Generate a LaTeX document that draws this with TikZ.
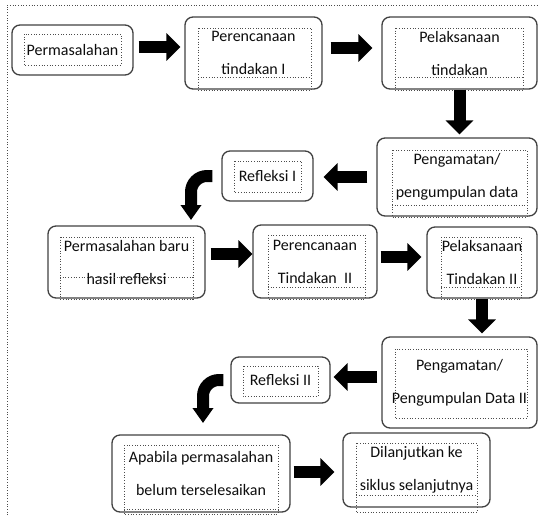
\documentclass[tikz,border=0pt]{standalone}
\usepackage{fontspec}
\setmainfont{Carlito}
\usetikzlibrary{arrows.meta}

\begin{document}
\begin{tikzpicture}[
x=1pt,y=-1pt,
box/.style={
  draw=black!75,
  line width=1.3pt,
  rounded corners=8pt,
  align=center,
  inner sep=0pt,
  text=black!95,
  font=\fontsize{16}{33}\selectfont
},
tbox/.style={
  draw=black!70,
  dotted,
  line width=0.7pt
},
barrow/.style={
  line width=12pt,
  -{Triangle[width=27pt,length=14pt]}
},
carrow/.style={
  line width=12pt,
  rounded corners=16pt,
  -{Triangle[width=20pt,length=15pt]}
}
]
\useasboundingbox (0,0) rectangle (538,515);
\draw[tbox] (7,515) -- (7,5) -- (538,5);

% first cycle
\node[box,minimum width=121pt,minimum height=50pt] at (72.5,50)
  (masalah) {Permasalahan};
\node[box,minimum width=137pt,minimum height=72pt] at (253.5,53)
  (rencana) {Perencanaan\\tindakan I};
\node[box,minimum width=155pt,minimum height=72pt] at (459.5,53)
  (laksana) {Pelaksanaan\\tindakan};
\node[box,minimum width=160pt,minimum height=78pt] at (457,177)
  (amat) {Pengamatan/\\pengumpulan data};
\node[box,minimum width=91pt,minimum height=50pt] at (267.5,176)
  (refleksi) {Refleksi I};

% second cycle
\node[box,minimum width=157pt,minimum height=72pt] at (126.5,262)
  (masalahB) {Permasalahan baru\\hasil refleksi};
\node[box,minimum width=124pt,minimum height=73pt] at (315,261.5)
  (rencanaB) {Perencanaan\\Tindakan~~II};
\node[box,minimum width=110pt,minimum height=71pt] at (482,262.5)
  (laksanaB) {Pelaksanaan\\Tindakan II};
\node[box,minimum width=155pt,minimum height=91pt] at (459.5,382.5)
  (amatB) {Pengamatan/\\Pengumpulan Data II};
\node[box,minimum width=99pt,minimum height=46pt] at (280.5,380)
  (refleksiB) {Refleksi II};
\node[box,minimum width=178pt,minimum height=77pt] at (201,473.5)
  (belum) {Apabila permasalahan\\belum terselesaikan};
\node[box,minimum width=147pt,minimum height=74pt] at (416.5,470)
  (lanjut) {Dilanjutkan ke\\siklus selanjutnya};

% text frames
\draw[tbox] (24,34) rectangle (121,65);
\draw[tbox] (198,28) rectangle (311,90) (198,77) -- (311,77);
\draw[tbox] (395,28) rectangle (523,90) (395,77) -- (523,77);
\draw[tbox] (392,150) rectangle (527,217) (392,205) -- (527,205);
\draw[tbox] (234,161) rectangle (301,192);
\draw[tbox] (60,237) rectangle (193,299) (60,277) -- (193,277);
\draw[tbox] (268,235) rectangle (365,299) (268,287) -- (365,287);
\draw[tbox] (441,237) rectangle (521,299) (441,287) -- (521,287);
\draw[tbox] (395,349) rectangle (527,418);
\draw[tbox] (243,366) rectangle (318,396);
\draw[tbox] (124,445) rectangle (278,514) (124,509) -- (278,509);
\draw[tbox] (356,443) rectangle (477,512) (356,495) -- (477,495);

\coordinate (turnA) at (191,226);
\coordinate (turnB) at (203,435);

\draw[barrow,shorten <=5pt,shorten >=4pt] ([yshift=3pt]masalah.east) -- ([yshift=6pt]rencana.west);
\draw[barrow,shorten <=8pt,shorten >=9pt] ([yshift=5pt]rencana.east) -- ([yshift=5pt]laksana.west);
\draw[barrow,shorten >=3pt] (laksana.south) -- (laksana.south |- amat.north);
\draw[barrow,shorten <=9pt,shorten >=10pt] (amat.west) -- (amat.west -| refleksi.east);
\draw[carrow,shorten <=9pt,shorten >=6pt] (refleksi.west) -| (turnA);
\draw[barrow,shorten <=5pt] ([yshift=8pt]masalahB.east) -- ([yshift=7.5pt]rencanaB.west);
\draw[barrow,shorten <=3pt,shorten >=5pt] ([yshift=4.5pt]rencanaB.east) -- ([yshift=5.5pt]laksanaB.west);
\draw[barrow,shorten >=3pt] (laksanaB.south) -- (laksanaB.south |- amatB.north);
\draw[barrow,shorten <=4pt,shorten >=3pt] ([yshift=5.5pt]amatB.west) -- ([yshift=3pt]refleksiB.east);
\draw[carrow,shorten <=7pt,shorten >=12pt] (refleksiB.west) -| (turnB);
\draw[barrow,shorten <=3pt,shorten >=8pt] ([yshift=1.5pt]belum.east) -- ([yshift=-2pt]lanjut.west);
\end{tikzpicture}
\end{document}
